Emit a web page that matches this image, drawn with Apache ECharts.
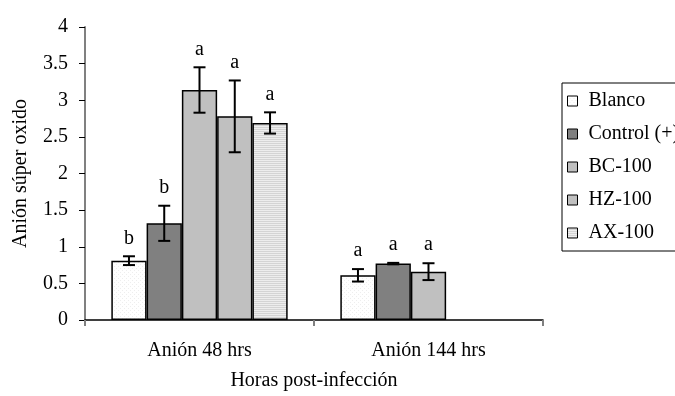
<!DOCTYPE html>
<html>
<head>
<meta charset="utf-8">
<script src="https://cdn.jsdelivr.net/npm/echarts@6/dist/echarts.min.js"></script>
<style>
  html, body { margin: 0; padding: 0; background: #fff; }
  #chart { width: 675px; height: 396px; }
</style>
</head>
<body>
<div id="chart"></div>
<script>
// Superoxide anion by treatment, two sampling times
const categories = ['Anión 48 hrs', 'Anión 144 hrs'];
const seriesNames = ['Blanco', 'Control (+)', 'BC-100', 'HZ-100', 'AX-100'];
const blanco = [0.81, 0.61];
const control = [1.32, 0.77];
const bc100 = [3.14, 0.66];
const hz100 = [2.78, null];
const ax100 = [2.69, null];
const blancoErr = [0.06, 0.085];
const controlErr = [0.24, 0.01];
const bc100Err = [0.31, 0.115];
const hz100Err = [0.49, null];
const ax100Err = [0.145, null];
const blancoLetters = ['b', 'a'];
const controlLetters = ['b', 'a'];
const bc100Letters = ['a', 'a'];
const hz100Letters = ['a', null];
const ax100Letters = ['a', null];
const yTicks = [0, 0.5, 1, 1.5, 2, 2.5, 3, 3.5, 4];

const FONT = "'Liberation Serif', 'Times New Roman', serif";
const FS = 20;

// Fill patterns
function dottedPattern() {
  const c = document.createElement('canvas');
  c.width = 4; c.height = 4;
  const g = c.getContext('2d');
  g.fillStyle = '#ffffff'; g.fillRect(0, 0, 4, 4);
  g.fillStyle = '#eeeeee';
  g.fillRect(0, 0, 1, 1); g.fillRect(2, 2, 1, 1);
  return c;
}
function stripedPattern() {
  const c = document.createElement('canvas');
  c.width = 4; c.height = 2;
  const g = c.getContext('2d');
  g.fillStyle = '#ededed'; g.fillRect(0, 0, 4, 2);
  g.fillStyle = '#d4d4d4'; g.fillRect(0, 1, 4, 1);
  return c;
}

const values = [blanco, control, bc100, hz100, ax100];
const errors = [blancoErr, controlErr, bc100Err, hz100Err, ax100Err];
const letters = [blancoLetters, controlLetters, bc100Letters, hz100Letters, ax100Letters];
const fills = [
  { image: dottedPattern(), repeat: 'repeat' },
  '#808080',
  '#c0c0c0',
  '#c0c0c0',
  { image: stripedPattern(), repeat: 'repeat' }
];

const CAT_GAP = 0.23;
const N = seriesNames.length;

// Error bars and significance letters
const errData = [];
const errLetters = [];
values.forEach((arr, s) => {
  arr.forEach((v, i) => {
    if (v == null) return;
    errData.push([i, v, errors[s][i], s]);
    errLetters.push(letters[s][i]);
  });
});

const barSeries = seriesNames.map((name, s) => ({
  name: name,
  type: 'bar',
  data: values[s],
  barGap: '0%',
  barCategoryGap: (CAT_GAP * 100) + '%',
  itemStyle: { color: fills[s], borderColor: '#000', borderWidth: 1.5 },
  emphasis: { disabled: true },
  animation: false
}));

const errSeries = {
  type: 'custom',
  data: errData,
  z: 10,
  animation: false,
  silent: true,
  renderItem: function (params, api) {
    const cat = api.value(0), v = api.value(1), e = api.value(2), s = api.value(3);
    const band = api.size([1, 0])[0];
    const bw = band * (1 - CAT_GAP) / N;
    const x = api.coord([cat, 0])[0] + (s - (N - 1) / 2) * bw;
    const yTop = api.coord([cat, v + e])[1];
    const yBot = api.coord([cat, v - e])[1];
    const cap = 6;
    const ls = { stroke: '#000', lineWidth: 2 };
    return {
      type: 'group',
      children: [
        { type: 'line', shape: { x1: x, y1: yTop, x2: x, y2: yBot }, style: ls },
        { type: 'line', shape: { x1: x - cap, y1: yTop, x2: x + cap, y2: yTop }, style: ls },
        { type: 'line', shape: { x1: x - cap, y1: yBot, x2: x + cap, y2: yBot }, style: ls },
        { type: 'text', style: {
            text: errLetters[params.dataIndex], x: x, y: yTop - 8,
            align: 'center', verticalAlign: 'bottom',
            font: FS + 'px ' + FONT, fill: '#000' } }
      ]
    };
  }
};

const chart = echarts.init(document.getElementById('chart'), null, { renderer: 'canvas' });
chart.setOption({
  backgroundColor: '#fff',
  animation: false,
  textStyle: { fontFamily: FONT },
  grid: { left: 85, top: 27, right: 132, bottom: 75.5, containLabel: false },
  legend: {
    orient: 'vertical',
    left: 562, top: 83,
    padding: [8, 20, 8, 5],
    itemWidth: 10, itemHeight: 10,
    itemGap: 13,
    borderColor: '#000', borderWidth: 1,
    backgroundColor: '#fff',
    icon: 'rect',
    itemStyle: { borderColor: '#000', borderWidth: 1 },
    textStyle: { fontFamily: FONT, fontSize: FS, color: '#000', padding: [0, 0, 0, 6] },
    data: seriesNames,
    selectedMode: false
  },
  xAxis: {
    type: 'category',
    data: categories,
    boundaryGap: true,
    name: 'Horas post-infección',
    nameLocation: 'middle',
    nameGap: 51,
    nameTextStyle: { fontFamily: FONT, fontSize: FS, color: '#000' },
    axisLine: { lineStyle: { color: '#000', width: 1.5 } },
    axisTick: { show: true, length: 6, lineStyle: { color: '#808080', width: 2 } },
    axisLabel: { fontFamily: FONT, fontSize: FS, color: '#000', margin: 21 },
    splitLine: { show: false }
  },
  yAxis: {
    type: 'value',
    min: yTicks[0], max: yTicks[yTicks.length - 1], interval: 0.5,
    name: 'Anión súper oxido',
    nameLocation: 'middle',
    nameGap: 54,
    nameTextStyle: { fontFamily: FONT, fontSize: FS, color: '#000' },
    axisLine: { show: true, lineStyle: { color: '#808080', width: 2 } },
    axisTick: { show: true, length: 6, lineStyle: { color: '#000', width: 1 } },
    axisLabel: { fontFamily: FONT, fontSize: FS, color: '#000', margin: 17 },
    splitLine: { show: false }
  },
  series: barSeries.concat([errSeries])
});
</script>
</body>
</html>
